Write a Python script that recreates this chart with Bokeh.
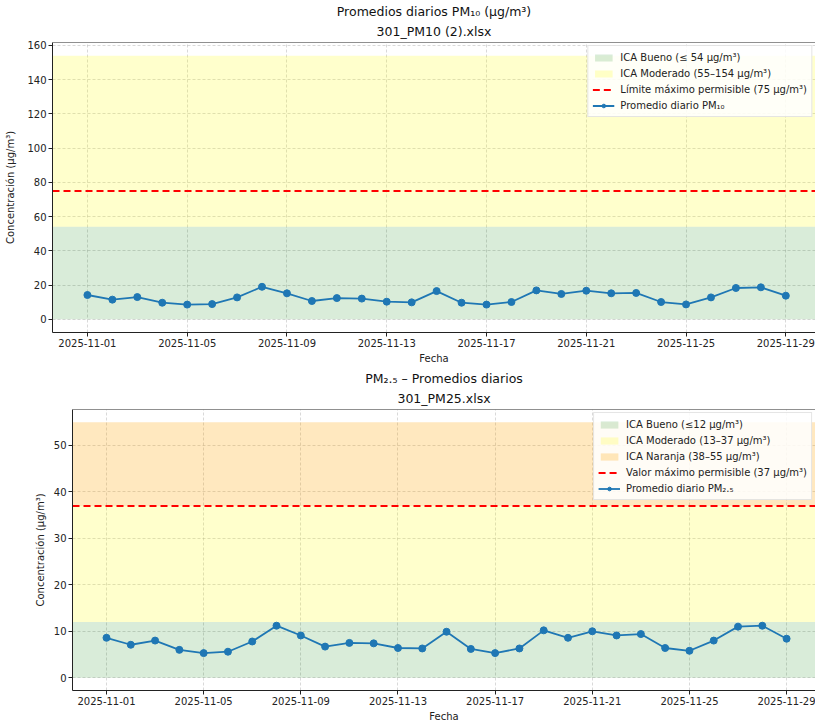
import pandas as pd
from bokeh.plotting import figure
from bokeh.models import (Range1d, DatetimeTickFormatter, FixedTicker, Title, Span)
from bokeh.embed import file_html
from bokeh.resources import INLINE

# ---------------- data ----------------
dates = pd.date_range("2025-11-01", "2025-11-29", freq="D")
tick_days = [1, 5, 9, 13, 17, 21, 25, 29]

pm10 = [14.2, 11.5, 13.0, 9.7, 8.6, 8.9, 12.8, 19.0, 15.2, 10.7, 12.4, 12.1, 10.3, 9.9,
        16.5, 9.7, 8.6, 10.1, 16.9, 14.8, 16.7, 15.2, 15.4, 10.1, 8.7, 12.8, 18.3, 18.7, 13.8]
pm25 = [8.6, 7.1, 8.0, 6.0, 5.3, 5.6, 7.8, 11.2, 9.1, 6.7, 7.5, 7.4, 6.4, 6.3,
        9.9, 6.2, 5.3, 6.3, 10.2, 8.6, 10.0, 9.1, 9.4, 6.4, 5.8, 8.0, 11.0, 11.2, 8.4]

pm10_band_low = [0, 54]
pm10_band_high = [54, 154]
pm10_band_labels = ["ICA Bueno (≤ 54 µg/m³)", "ICA Moderado (55–154 µg/m³)"]
pm10_limit = 75
pm10_limit_label = "Límite máximo permisible (75 µg/m³)"
pm10_series_label = "Promedio diario PM₁₀"
pm10_yticks = [0, 20, 40, 60, 80, 100, 120, 140, 160]

pm25_band_low = [0, 12, 37]
pm25_band_high = [12, 37, 55]
pm25_band_labels = ["ICA Bueno (≤12 µg/m³)", "ICA Moderado (13–37 µg/m³)", "ICA Naranja (38–55 µg/m³)"]
pm25_limit = 37
pm25_limit_label = "Valor máximo permisible (37 µg/m³)"
pm25_series_label = "Promedio diario PM₂.₅"
pm25_yticks = [0, 10, 20, 30, 40, 50]

band_colors = ["green", "yellow", "orange"]
band_alphas = [0.15, 0.2, 0.25]

FONT = "DejaVu Sans"
YLABEL = "Concentración (µg/m³)"


def make_fig(title1, title2, values, lows, highs, labels, limit, limit_label,
             series_label, yticks, width, height, left_b, top_b, bottom_b, ylabel_gap):
    span = dates[-1] - dates[0]
    pad = span * 0.05
    x0 = dates[0] - pad
    x1 = dates[-1] + pad * 0.85
    ymax = max(highs)
    ypad = 0.05 * ymax
    p = figure(x_axis_type="datetime", output_backend="svg", toolbar_location=None,
               width=width, height=height,
               x_range=Range1d(x0, x1), y_range=Range1d(-ypad, ymax + ypad),
               min_border_left=left_b, min_border_right=0,
               min_border_top=top_b, min_border_bottom=bottom_b,
               title=None, background_fill_color="white")
    p.outline_line_color = None

    p.add_layout(Title(text=title2, align="center", text_font=FONT,
                       text_font_size="12.5px", text_font_style="normal",
                       text_color="#111111", text_line_height=1.0, standoff=8), "above")
    p.add_layout(Title(text=title1, align="center", text_font=FONT,
                       text_font_size="12.5px", text_font_style="normal",
                       text_color="#111111", text_line_height=1.0, standoff=-3), "above")

    for lo, hi, lab, c, a in zip(lows, highs, labels, band_colors, band_alphas):
        p.quad(left=[x0], right=[x1], bottom=[lo], top=[hi], fill_color=c, fill_alpha=a,
               line_color=None, legend_label=lab)

    p.line([x0, x1], [limit, limit], line_color="red", line_width=2, line_dash="7 4",
           legend_label=limit_label)

    p.line(dates, values, line_color="#1f77b4", line_width=1.8, legend_label=series_label)
    p.scatter(dates, values, size=7, marker="circle", fill_color="#1f77b4",
              line_color="#1f77b4", legend_label=series_label)

    p.add_layout(Span(location=ymax + ypad, dimension="width", line_color="#222222",
                      line_width=1))

    tick_dates = [d for d in dates if d.day in tick_days]
    ticker = FixedTicker(ticks=[d.timestamp() * 1000 for d in tick_dates])
    p.xaxis.ticker = ticker
    p.xgrid.ticker = ticker
    p.xaxis.formatter = DatetimeTickFormatter(days="%Y-%m-%d", months="%Y-%m-%d",
                                              hours="%Y-%m-%d", context=None)
    p.yaxis.ticker = FixedTicker(ticks=yticks)

    for ax in (p.xaxis, p.yaxis):
        ax.major_tick_out = 4
        ax.major_tick_in = 0
        ax.minor_tick_line_color = None
        ax.axis_line_color = "#222222"
        ax.major_tick_line_color = "#222222"
        ax.major_label_text_font = FONT
        ax.major_label_text_font_size = "10px"
        ax.major_label_text_color = "#222222"
        ax.axis_label_text_font = FONT
        ax.axis_label_text_font_size = "10px"
        ax.axis_label_text_font_style = "normal"
        ax.axis_label_text_color = "#222222"
        ax.major_label_standoff = 2
    p.xaxis.axis_label = "Fecha"
    p.xaxis.axis_label_standoff = 3
    p.yaxis.axis_label = YLABEL
    p.yaxis.axis_label_standoff = ylabel_gap

    for g in (p.xgrid, p.ygrid):
        g.grid_line_color = "#a0a0a0"
        g.grid_line_alpha = 0.4
        g.grid_line_dash = "3 2"
        g.grid_line_width = 1

    lg = p.legend[0]
    lg.location = "top_right"
    lg.margin = 3
    lg.padding = 4
    lg.spacing = 2
    lg.glyph_width = 22
    lg.glyph_height = 9
    lg.label_height = 14
    lg.label_standoff = 6
    lg.label_text_font = FONT
    lg.label_text_font_size = "10px"
    lg.label_text_color = "#222222"
    lg.background_fill_alpha = 0.85
    lg.border_line_color = "#cccccc"
    lg.border_line_width = 1
    return p


p1 = make_fig("Promedios diarios PM₁₀ (µg/m³)", "301_PM10 (2).xlsx", pm10,
              pm10_band_low, pm10_band_high, pm10_band_labels, pm10_limit,
              pm10_limit_label, pm10_series_label, pm10_yticks,
              width=815, height=366, left_b=52, top_b=42, bottom_b=34, ylabel_gap=8)
p2 = make_fig("PM₂.₅ – Promedios diarios", "301_PM25.xlsx", pm25,
              pm25_band_low, pm25_band_high, pm25_band_labels, pm25_limit,
              pm25_limit_label, pm25_series_label, pm25_yticks,
              width=815, height=359, left_b=72, top_b=43, bottom_b=35, ylabel_gap=5)

p = [p1, p2]
open("out.html", "w").write(file_html(p, INLINE))
